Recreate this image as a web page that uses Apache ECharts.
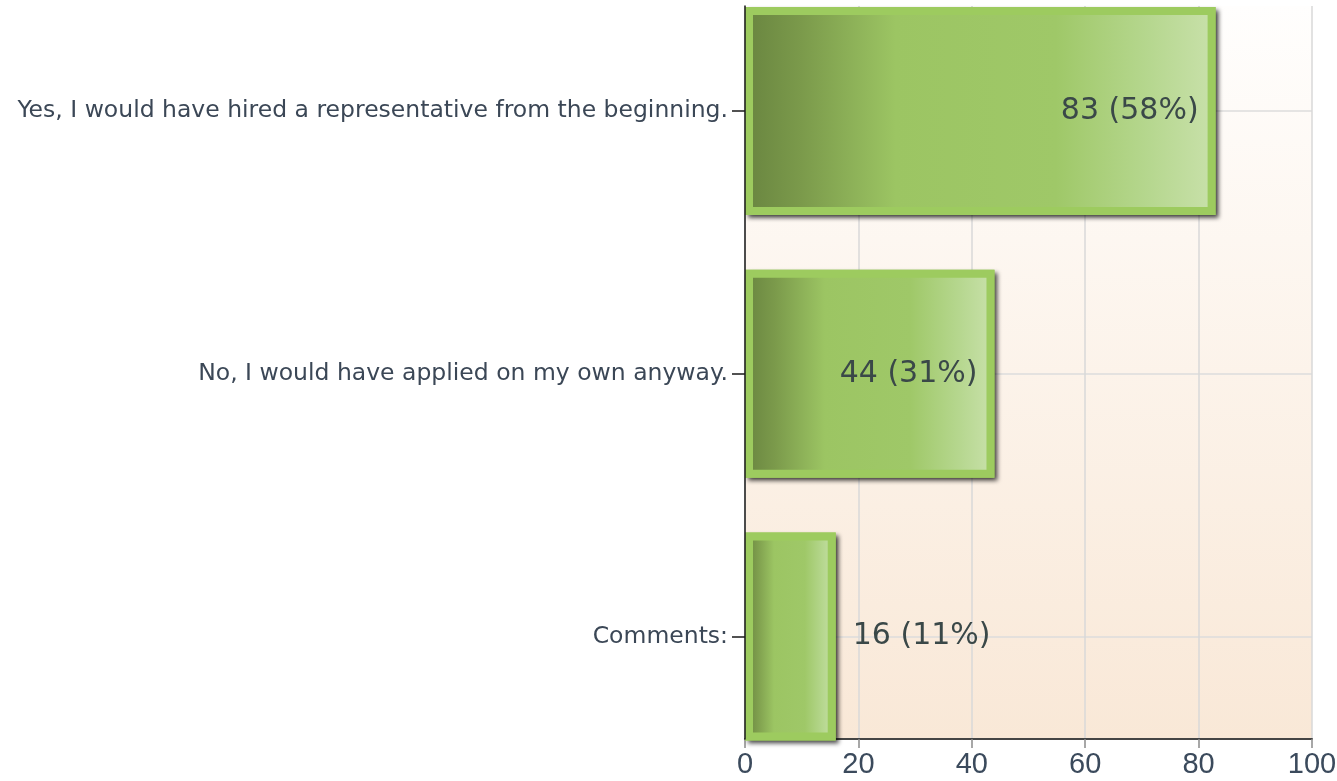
<!DOCTYPE html>
<html>
<head>
<meta charset="utf-8">
<script src="https://cdn.jsdelivr.net/npm/echarts@6/dist/echarts.min.js"></script>
<style>
html,body{margin:0;padding:0;background:#ffffff;}
#chart{width:1337px;height:781px;}
</style>
</head>
<body>
<div id="chart"></div>
<script>
const categories = [
  'Yes, I would have hired a representative from the beginning.',
  'No, I would have applied on my own anyway.',
  'Comments:'
];
const counts = [83, 44, 16];
const percents = [58, 31, 11];
const xTicks = [0, 20, 40, 60, 80, 100];

const chart = echarts.init(document.getElementById('chart'), null, {renderer: 'canvas'});

const barGradient = new echarts.graphic.LinearGradient(0, 0, 1, 0, [
  {offset: 0, color: '#698540'},
  {offset: 0.12, color: '#7b9a4b'},
  {offset: 0.32, color: '#9cc563'},
  {offset: 0.66, color: '#9fc868'},
  {offset: 0.86, color: '#b6d78f'},
  {offset: 1, color: '#c9e1ab'}
]);

const labelData = counts.map((v, i) => ({
  value: v,
  label: {
    position: v >= 30 ? 'insideRight' : 'right',
    distance: 17
  }
}));

chart.setOption({
  animation: false,
  grid: [
    {
      left: 745, right: 25, top: 6, bottom: 42,
      outerBoundsMode: 'none',
      show: true, borderWidth: 0,
      backgroundColor: new echarts.graphic.LinearGradient(0, 0, 0, 1, [
        {offset: 0, color: '#fffefd'},
        {offset: 1, color: '#f9e8d7'}
      ])
    },
    {
      left: 745, right: 25, top: -20.25, bottom: 13.25,
      outerBoundsMode: 'none',
      show: false
    }
  ],
  xAxis: [
    {
      gridIndex: 0, type: 'value', min: xTicks[0], max: xTicks[xTicks.length - 1], interval: 20,
      axisLine: {show: true, lineStyle: {color: '#454545', width: 2}},
      axisTick: {show: true, length: 9, lineStyle: {color: '#8a8a8a', width: 1.5}},
      axisLabel: {
        margin: 11, fontFamily: 'Liberation Sans', fontSize: 29, color: '#3b4a5c',
        showMaxLabel: true, showMinLabel: true
      },
      splitLine: {show: true, lineStyle: {color: '#d9d9d9', width: 1.5}}
    },
    {
      gridIndex: 1, type: 'value', min: 0, max: 100, show: false
    }
  ],
  yAxis: [
    {
      gridIndex: 0, type: 'value', min: 0, max: 1, z: 5,
      axisLine: {show: true, onZero: false, lineStyle: {color: '#1a1a1a', width: 1.5}},
      axisTick: {show: false}, axisLabel: {show: false}, splitLine: {show: false}
    },
    {
      gridIndex: 1, type: 'category', inverse: true, data: categories,
      axisLine: {show: false},
      axisTick: {show: true, alignWithLabel: true, length: 13, lineStyle: {color: '#1a1a1a', width: 1.5}},
      axisLabel: {margin: 17, fontFamily: 'DejaVu Sans', fontSize: 23.5, color: '#3b4756'},
      splitLine: {show: true, alignWithLabel: true, lineStyle: {color: '#dcdcdc', width: 1.5}}
    }
  ],
  series: [
    {
      name: 'shadow',
      type: 'bar',
      xAxisIndex: 1, yAxisIndex: 1,
      data: counts,
      barWidth: 208,
      barGap: '-100%',
      silent: true,
      itemStyle: {
        color: '#9dcb5f',
        borderColor: '#9dcb5f',
        borderWidth: 8,
        shadowColor: 'rgba(0,0,0,0.65)',
        shadowBlur: 4,
        shadowOffsetX: 3,
        shadowOffsetY: 3
      },
      emphasis: {disabled: true}
    },
    {
      name: 'responses',
      type: 'bar',
      xAxisIndex: 1, yAxisIndex: 1,
      data: labelData,
      barWidth: 208,
      barGap: '-100%',
      itemStyle: {
        color: barGradient,
        borderColor: '#9dcb5f',
        borderWidth: 8
      },
      label: {
        show: true,
        fontFamily: 'DejaVu Sans',
        fontSize: 30,
        color: '#3a4848',
        formatter: (p) => counts[p.dataIndex] + ' (' + percents[p.dataIndex] + '%)'
      },
      emphasis: {disabled: true}
    }
  ]
});
</script>
</body>
</html>
